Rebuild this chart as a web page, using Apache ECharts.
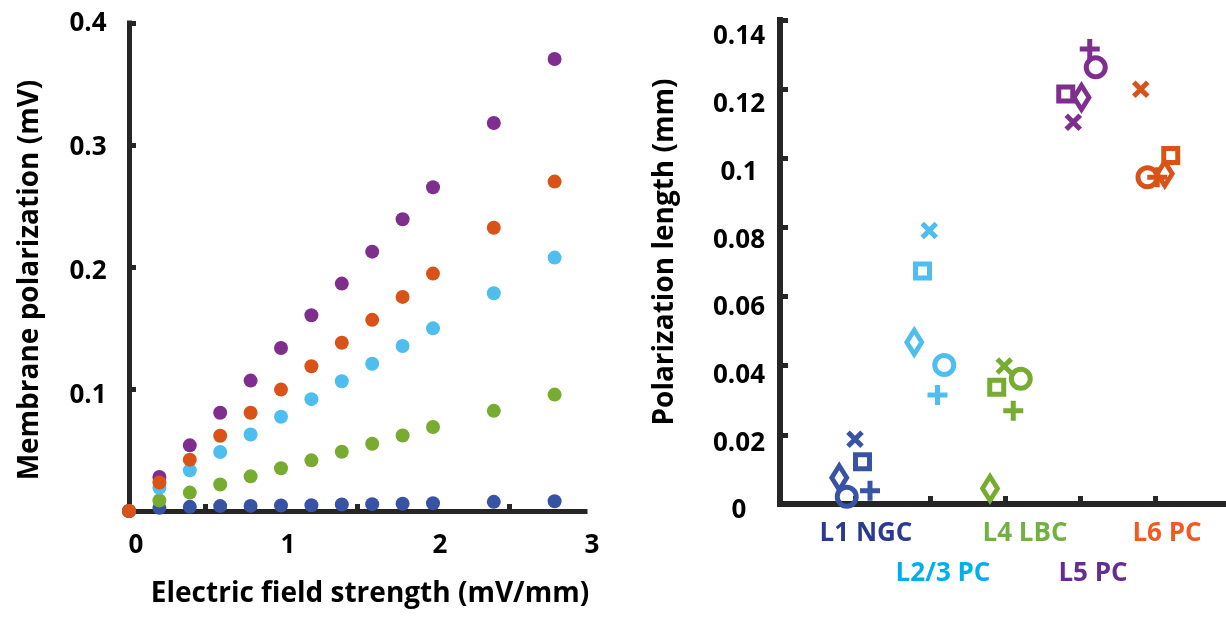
<!DOCTYPE html>
<html>
<head>
<meta charset="utf-8">
<script src="https://cdn.jsdelivr.net/npm/echarts@6/dist/echarts.min.js"></script>
<style>
  html, body { margin: 0; padding: 0; background: #ffffff; }
  #chart { width: 1226px; height: 624px; }
</style>
</head>
<body>
<div id="chart"></div>
<script>
// ---- Membrane polarization vs. applied field -------------------------------
const fieldStrength = [0, 0.2, 0.4, 0.6, 0.8, 1.0, 1.2, 1.4, 1.6, 1.8, 2.0, 2.4, 2.8];

// polarization (mV) for each cell type at the field strengths above
const polL1NGC = [0, 0.0026, 0.0034, 0.0040, 0.0042, 0.0045, 0.0047, 0.0053, 0.0056, 0.0060, 0.0064, 0.0075, 0.0080];
const polL4LBC = [0, 0.0086, 0.0151, 0.0217, 0.0284, 0.0350, 0.0415, 0.0486, 0.0551, 0.0619, 0.0688, 0.0821, 0.0954];
const polL23PC = [0, 0.0190, 0.0333, 0.0484, 0.0627, 0.0772, 0.0917, 0.1064, 0.1207, 0.1352, 0.1497, 0.1785, 0.2077];
const polL5PC  = [0, 0.0279, 0.0538, 0.0805, 0.1069, 0.1336, 0.1605, 0.1864, 0.2126, 0.2392, 0.2654, 0.3180, 0.3705];
const polL6PC  = [0, 0.0233, 0.0421, 0.0617, 0.0805, 0.0995, 0.1186, 0.1379, 0.1567, 0.1755, 0.1946, 0.2322, 0.2700];

// ---- Polarization length per reconstructed neuron ---------------------------
const cellTypes = ['L1 NGC', 'L2/3 PC', 'L4 LBC', 'L5 PC', 'L6 PC'];
// neuron order in every list: circle, square, diamond, cross, plus
const lenL1NGC = [0.0021, 0.0122, 0.0076, 0.0187, 0.0038];
const lenL23PC = [0.0402, 0.0674, 0.0468, 0.0791, 0.0315];
const lenL4LBC = [0.0362, 0.0338, 0.0045, 0.0399, 0.0270];
const lenL5PC  = [0.1263, 0.1186, 0.1176, 0.1104, 0.1316];
const lenL6PC  = [0.0945, 0.1008, 0.0955, 0.1200, 0.0945];
// horizontal spread of the neurons around their cell-type column
const spreadL1NGC = [-0.11, 0.10, -0.21, 0.00, 0.20];
const spreadL23PC = [0.19, -0.10, -0.21, -0.01, 0.10];
const spreadL4LBC = [0.21, -0.11, -0.20, -0.01, 0.11];
const spreadL5PC  = [0.21, -0.19, 0.02, -0.09, 0.13];
const spreadL6PC  = [-0.10, 0.21, 0.13, -0.19, 0.03];

// ---- styles -----------------------------------------------------------------
const FONT = '"Open Sans", "Noto Sans", sans-serif';
const AXIS = '#262626';
const dotColors = { l1: '#3953A4', l23: '#4DBEEE', l4: '#77AC30', l5: '#7E2F8E', l6: '#D95319' };
const labelColors = ['#2B3990', '#00AEEF', '#72B043', '#662D91', '#F15A22'];
const labelShift = [22, 26, 40, 26, 24];
const neuronSymbols = [
  'circle',
  'rect',
  'diamond',
  'path://M0,0L10,10M0,10L10,0',
  'path://M5,0L5,10M0,5L10,5'
];
const neuronSizes = [19, 14, [15, 24], 14, 20];

const dotSeries = (name, values, color) => ({
  type: 'scatter', name, xAxisIndex: 0, yAxisIndex: 0,
  data: fieldStrength.map((x, i) => [x, values[i]]),
  symbol: 'circle', symbolSize: 14,
  itemStyle: { color, opacity: 1 },
  emphasis: { disabled: true },
  z: 3
});

const neuronSeries = (k, lengths, spread, color) => ({
  type: 'scatter', name: cellTypes[k], xAxisIndex: 1, yAxisIndex: 1,
  data: lengths.map((v, i) => ({
    value: [k + spread[i], v],
    symbol: neuronSymbols[i],
    symbolSize: neuronSizes[i]
  })),
  itemStyle: { color: 'rgba(0,0,0,0)', borderColor: color, borderWidth: 5, borderJoin: 'miter', opacity: 1 },
  emphasis: { disabled: true },
  z: 3
});

const axisLineStyle = w => ({ show: true, onZero: false, lineStyle: { color: AXIS, width: w, cap: 'square' } });
const tickFont = { color: '#000', fontFamily: FONT, fontSize: 26, fontWeight: 'bold' };

const rich = { gap: { fontSize: 10, lineHeight: 40 } };
cellTypes.forEach((_, k) => {
  rich['c' + k] = {
    color: labelColors[k], fontFamily: FONT, fontSize: 26, fontWeight: 'bold',
    lineHeight: 40, padding: [0, 0, 0, labelShift[k]]
  };
});

const chart = echarts.init(document.getElementById('chart'), null, { renderer: 'canvas' });

chart.setOption({
  animation: false,
  backgroundColor: '#ffffff',
  textStyle: { fontFamily: FONT },
  grid: [
    { left: 129, right: 641, top: 23, bottom: 113, outerBoundsMode: 'none' },   // field sweep
    { left: 780, right: -4, top: 20, bottom: 120, outerBoundsMode: 'none' },    // cell types
    { left: 129, right: 641, top: 24, bottom: 104, outerBoundsMode: 'none' },   // left tick labels
    { left: 780, right: -4, top: 37, bottom: 113, outerBoundsMode: 'none' }     // right tick labels
  ],
  xAxis: [
    {
      gridIndex: 0, type: 'value', min: 0, max: 3, interval: 1,
      axisLine: axisLineStyle(5),
      axisTick: { show: false, inside: true },
      minorTick: { show: true, splitNumber: 2, length: 7, lineStyle: { color: AXIS, width: 5 } },
      minorSplitLine: { show: false },
      splitLine: { show: false },
      axisLabel: Object.assign({ margin: 22, padding: [0, 0, 0, 14] }, tickFont)
    },
    {
      gridIndex: 1, type: 'value', min: -1, max: 5, interval: 1,
      axisLine: axisLineStyle(6),
      axisTick: { show: true, inside: true, length: 8, lineStyle: { color: AXIS, width: 5 } },
      splitLine: { show: false },
      axisLabel: {
        margin: 10,
        formatter: v => {
          const k = Math.round(v);
          if (Math.abs(v - k) > 1e-6 || k < 0 || k >= cellTypes.length) return '';
          return (k % 2 ? '{gap| }\n' : '') + '{c' + k + '|' + cellTypes[k] + '}';
        },
        rich
      }
    },
    { gridIndex: 2, type: 'value', min: 0, max: 1, show: false },
    { gridIndex: 3, type: 'value', min: 0, max: 1, show: false }
  ],
  yAxis: [
    {
      gridIndex: 0, type: 'value', min: 0, max: 0.4, interval: 0.1,
      axisLine: axisLineStyle(5),
      axisTick: { show: true, inside: true, length: 7, lineStyle: { color: AXIS, width: 5 } },
      splitLine: { show: false },
      axisLabel: { show: false }
    },
    {
      gridIndex: 1, type: 'value', min: 0, max: 0.14, interval: 0.02,
      axisLine: axisLineStyle(6),
      axisTick: { show: true, inside: true, length: 8, lineStyle: { color: AXIS, width: 5 } },
      splitLine: { show: false },
      axisLabel: { show: false }
    },
    {
      gridIndex: 2, type: 'value', min: 0, max: 0.4, interval: 0.1,
      axisLine: { show: false }, axisTick: { show: false }, splitLine: { show: false },
      axisLabel: Object.assign({ align: 'center', margin: 41, formatter: v => (v === 0 ? '' : String(+v.toFixed(2))) }, tickFont)
    },
    {
      gridIndex: 3, type: 'value', min: 0, max: 0.14, interval: 0.02,
      axisLine: { show: false }, axisTick: { show: false }, splitLine: { show: false },
      axisLabel: Object.assign({ align: 'center', margin: 41, formatter: v => String(+v.toFixed(2)) }, tickFont)
    }
  ],
  graphic: [
    {
      type: 'text', x: 30, y: 280, rotation: Math.PI / 2, silent: true,
      style: { text: 'Membrane polarization (mV)', fill: '#000', font: 'bold 28px ' + FONT, align: 'center', verticalAlign: 'middle' }
    },
    {
      type: 'text', x: 370, y: 594, silent: true,
      style: { text: 'Electric field strength (mV/mm)', fill: '#000', font: 'bold 28px ' + FONT, align: 'center', verticalAlign: 'middle' }
    },
    {
      type: 'text', x: 665, y: 252, rotation: Math.PI / 2, silent: true,
      style: { text: 'Polarization length (mm)', fill: '#000', font: 'bold 28px ' + FONT, align: 'center', verticalAlign: 'middle' }
    }
  ],
  series: [
    dotSeries('L1 NGC', polL1NGC, dotColors.l1),
    dotSeries('L4 LBC', polL4LBC, dotColors.l4),
    dotSeries('L2/3 PC', polL23PC, dotColors.l23),
    dotSeries('L5 PC', polL5PC, dotColors.l5),
    dotSeries('L6 PC', polL6PC, dotColors.l6),
    neuronSeries(0, lenL1NGC, spreadL1NGC, dotColors.l1),
    neuronSeries(1, lenL23PC, spreadL23PC, dotColors.l23),
    neuronSeries(2, lenL4LBC, spreadL4LBC, dotColors.l4),
    neuronSeries(3, lenL5PC, spreadL5PC, dotColors.l5),
    neuronSeries(4, lenL6PC, spreadL6PC, dotColors.l6)
  ]
});
</script>
</body>
</html>
